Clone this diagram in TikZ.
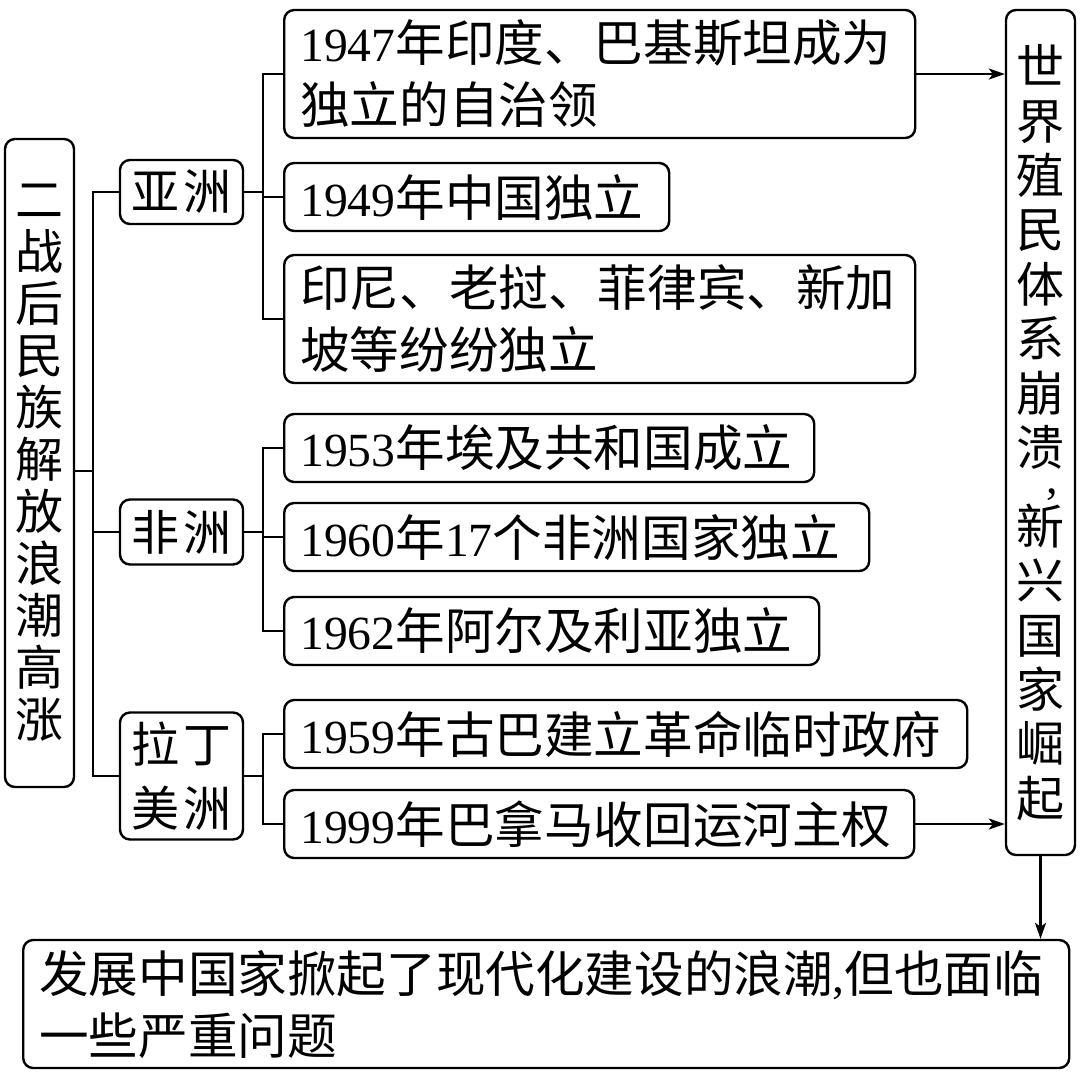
\documentclass[tikz,border=0pt]{standalone}
\usepackage{fontspec}
\setmainfont{Noto Sans CJK SC}
\newfontfamily\latfont[Scale=0.96]{Liberation Serif}
\newcommand{\yr}[1]{{\latfont #1}}
\usepackage{tikz}
\usetikzlibrary{arrows.meta}
\tikzstyle{chart}=[x=0.5pt, y=-0.5pt, line width=1.2pt, >={Stealth[length=8pt,width=5.5pt,inset=2pt]}, font=\fontsize{24.8pt}{31pt}\selectfont]
\tikzstyle{box}=[draw, rounded corners=5pt, anchor=west, inner xsep=8pt, inner ysep=0pt, align=left, minimum height=34pt]
\tikzstyle{tall}=[box, minimum height=64pt]
\tikzstyle{region}=[draw, rounded corners=5pt, align=center, minimum width=61.5pt, inner sep=0pt]
\tikzstyle{column}=[draw, rounded corners=5pt, align=center, minimum width=34.5pt, inner sep=0pt]

\begin{document}
\begin{tikzpicture}[chart]
  \useasboundingbox (0,0) rectangle (1080,1078);
  \node[column, minimum height=324pt, font=\fontsize{24pt}{26pt}\selectfont] (L) at (39.5,463)
    {二\\战\\后\\民\\族\\解\\放\\浪\\潮\\高\\涨};
  \node[region, minimum height=32pt, font=\fontsize{24pt}{31pt}\selectfont] (asia) at (181.5,192) {亚\hspace{2pt}洲};
  \node[region, minimum height=32.5pt, font=\fontsize{24pt}{31pt}\selectfont] (africa) at (181.5,532) {非\hspace{2pt}洲};
  \node[region, minimum height=63.5pt, font=\fontsize{24pt}{32pt}\selectfont] (latin) at (181.5,776) {拉\hspace{2pt}丁\\美\hspace{2pt}洲};

  \node[tall, text width=299.5pt] (b1) at (283,74) {\yr{1947}年印度、巴基斯坦成为\\独立的自治领};
  \node[box, text width=176.5pt] (b2) at (283,197) {\yr{1949}年中国独立};
  \node[tall, text width=299.5pt] (b3) at (283,319) {印尼、老挝、菲律宾、新加\\坡等纷纷独立};
  \node[box, text width=249pt] (b4) at (283,448) {\yr{1953}年埃及共和国成立};
  \node[box, text width=276.5pt] (b5) at (283,537) {\yr{1960}年\yr{17}个非洲国家独立};
  \node[box, text width=251.5pt] (b6) at (283,631) {\yr{1962}年阿尔及利亚独立};
  \node[box, text width=325.5pt] (b7) at (283,734) {\yr{1959}年古巴建立革命临时政府};
  \node[box, text width=299pt] (b8) at (283,824) {\yr{1999}年巴拿马收回运河主权};

  \node[column, minimum height=422.5pt, font=\fontsize{24pt}{27.2pt}\selectfont] (R) at (1040.5,432.5)
    {世\\界\\殖\\民\\体\\系\\崩\\溃\\[-13pt]\hspace*{12pt}\yr{,}\\[-2pt]新\\兴\\国\\家\\崛\\起};
  \node[tall, text width=507pt] (out) at (22,1004)
    {发展中国家掀起了现代化建设的浪潮\yr{,}但也面临\\一些严重问题};

  \coordinate (j0) at (93,471);
  \coordinate (ja) at (263,192);
  \coordinate (jf) at (263,532);
  \coordinate (jl) at (263,776);
  \draw (L.east |- j0) -- (j0);
  \draw (asia.west) -| (j0) |- (latin.west);
  \draw (j0 |- africa.west) -- (africa.west);
  \draw (asia.east) -- (ja);
  \draw (b1.west) -| (ja) |- (b3.west);
  \draw (ja |- b2.west) -- (b2.west);
  \draw (africa.east) -- (jf);
  \draw (b4.west) -| (jf) |- (b6.west);
  \draw (jf |- b5.west) -- (b5.west);
  \draw (latin.east) -- (jl);
  \draw (b7.west) -| (jl) |- (b8.west);
  \draw[->] (b1.east) -- (b1.east -| R.west);
  \draw[->] (b8.east) -- (b8.east -| R.west);
  \draw[->] (R.south) -- (R.south |- out.north);
\end{tikzpicture}
\end{document}
